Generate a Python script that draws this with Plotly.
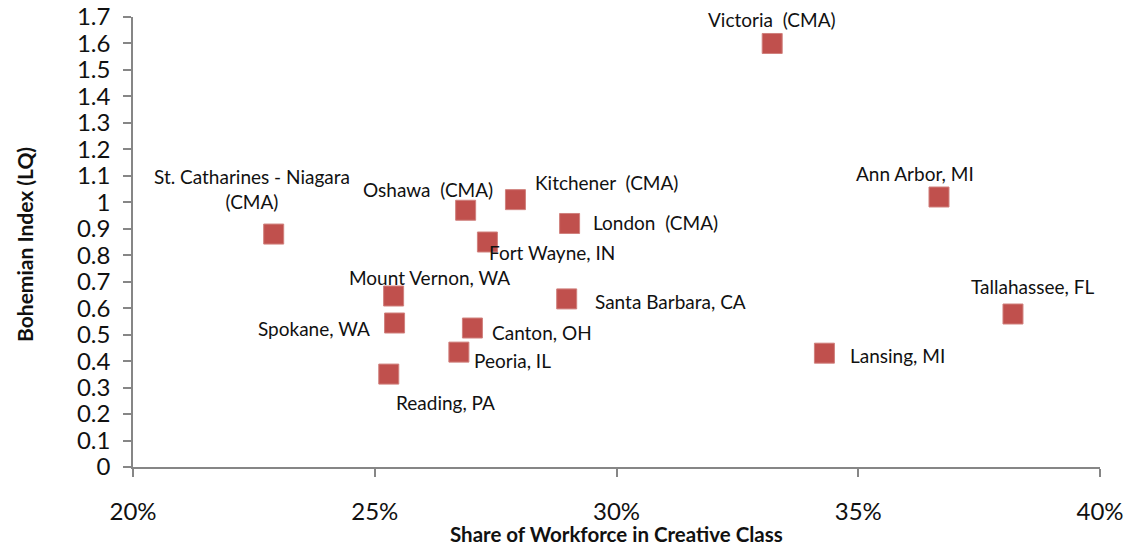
import plotly.graph_objects as go

cities = ["St. Catharines - Niagara<br>(CMA)", "Victoria  (CMA)", "Ann Arbor, MI", "Tallahassee, FL",
          "Lansing, MI", "Oshawa  (CMA)", "Kitchener  (CMA)", "London  (CMA)", "Fort Wayne, IN",
          "Mount Vernon, WA", "Santa Barbara, CA", "Canton, OH", "Peoria, IL", "Reading, PA", "Spokane, WA"]
creative_share = [0.2291, 0.3322, 0.3667, 0.3820, 0.3430, 0.2688, 0.2791, 0.2903, 0.2733,
                  0.2539, 0.2897, 0.2702, 0.2674, 0.2529, 0.2541]
bohemian_index = [0.88, 1.60, 1.02, 0.578, 0.43, 0.97, 1.01, 0.92, 0.85,
                  0.646, 0.635, 0.525, 0.434, 0.351, 0.544]
x_ticks = [0.20, 0.25, 0.30, 0.35, 0.40]
x_tick_labels = ["20%", "25%", "30%", "35%", "40%"]
y_ticks = [round(i * 0.1, 1) for i in range(18)]
y_tick_labels = ["0"] + [f"{v:.1f}" for v in y_ticks[1:10]] + ["1"] + [f"{v:.1f}" for v in y_ticks[11:]]

# label placement: (xanchor, xshift, yshift) in pixels relative to marker
label_style = [("center", -22, 45), ("center", 0, 24), ("center", -24, 24), ("center", 20, 28),
               ("left", 24, -2), ("right", 29, 21), ("left", 18, 17), ("left", 21, 1), ("left", 0, -10),
               ("center", 36, 19), ("left", 26, -3), ("left", 18, -4), ("left", 13, -8), ("left", 5, -28),
               ("right", -23, -5)]

FONT = "Lato, 'Open Sans', sans-serif"
AXIS = "#868686"

fig = go.Figure(go.Scatter(
    x=creative_share, y=bohemian_index, mode="markers",
    marker=dict(symbol="square", size=20, color="#C0504D", line=dict(color="#D0807D", width=1)),
    hoverinfo="skip", showlegend=False))

for name, xv, yv, (anc, xs, ys) in zip(cities, creative_share, bohemian_index, label_style):
    fig.add_annotation(x=xv, y=yv, xref="x", yref="y", text=name, showarrow=False,
                       xanchor=anc, yanchor="middle", xshift=xs, yshift=ys, align="center",
                       font=dict(family=FONT, size=19, color="#111111"))

fig.add_annotation(text="<b>Bohemian Index (LQ)</b>", xref="paper", yref="paper", x=-0.112, y=0.495,
                   textangle=-90, showarrow=False, xanchor="center", yanchor="middle",
                   font=dict(family=FONT, size=21, color="#111111"))
fig.add_annotation(text="<b>Share of Workforce in Creative Class</b>", xref="paper", yref="paper",
                   x=0.5, y=-0.148, showarrow=False, xanchor="center", yanchor="middle",
                   font=dict(family=FONT, size=20.5, color="#111111"))

fig.update_layout(
    width=1127, height=546, margin=dict(l=133, r=27, t=17, b=79),
    plot_bgcolor="white", paper_bgcolor="white",
    xaxis=dict(range=[0.20, 0.40], tickvals=x_ticks, ticktext=x_tick_labels, showgrid=False, zeroline=False,
               showline=True, linecolor=AXIS, linewidth=1.5, ticks="outside", ticklen=8, tickcolor=AXIS,
               tickwidth=1.5, ticklabelstandoff=14, automargin=False, ticklabeloverflow="allow",
               tickfont=dict(family=FONT, size=24, color="#111111")),
    yaxis=dict(range=[0, 1.7], tickvals=y_ticks, ticktext=y_tick_labels, showgrid=False, zeroline=False,
               showline=True, linecolor=AXIS, linewidth=1.5, ticks="outside", ticklen=8, tickcolor=AXIS,
               tickwidth=1.5, ticklabelstandoff=8, automargin=False, ticklabeloverflow="allow",
               tickfont=dict(family=FONT, size=24, color="#111111")),
)

# remove the default page body margin so the figure fills the window exactly
fig.write_html("out.html", config={"displayModeBar": False},
               post_script="document.body.style.margin='0';document.body.style.overflow='hidden';")
